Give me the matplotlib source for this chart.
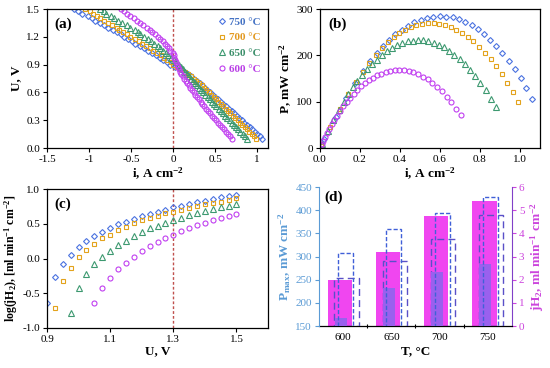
import numpy as np
import matplotlib
matplotlib.use("Agg")
import matplotlib.pyplot as plt
from matplotlib.ticker import FuncFormatter, MultipleLocator, FixedLocator

plt.rcParams["font.family"] = ["Liberation Serif", "DejaVu Serif"]
plt.rcParams["mathtext.fontset"] = "custom"
plt.rcParams["mathtext.rm"] = "Liberation Serif"
plt.rcParams["mathtext.bf"] = "Liberation Serif:bold"
plt.rcParams["mathtext.it"] = "Liberation Serif:italic"

# ---- data -------------------------------------------------------------
# voltage sweep, V (same grid for every temperature, high -> low)
voltage = [1.5, 1.475, 1.45, 1.425, 1.4, 1.375, 1.35, 1.325, 1.3, 1.275,
           1.25, 1.225, 1.2, 1.175, 1.15, 1.125, 1.1, 1.075, 1.05, 1.025,
           1.0, 0.975, 0.95, 0.925, 0.9, 0.875, 0.85, 0.825, 0.8, 0.775,
           0.75, 0.725, 0.7, 0.675, 0.65, 0.625, 0.6, 0.575, 0.55, 0.525,
           0.5, 0.475, 0.45, 0.425, 0.4, 0.375, 0.35, 0.325, 0.3, 0.275,
           0.25, 0.225, 0.2, 0.175, 0.15, 0.125, 0.1]

temps = [750, 700, 650, 600]

# electrolysis branch: log10(jH2 / ml min-1 cm-2), from U = 1.5 V downward
log_jh2_750 = [0.915, 0.895, 0.88, 0.85, 0.83, 0.81, 0.785, 0.76, 0.735, 0.70,
               0.67, 0.635, 0.61, 0.57, 0.53, 0.495, 0.44, 0.38, 0.32, 0.245,
               0.16, 0.05, -0.08, -0.27, -0.635]
log_jh2_700 = [0.865, 0.84, 0.82, 0.80, 0.78, 0.755, 0.73, 0.705, 0.67, 0.65,
               0.615, 0.585, 0.55, 0.505, 0.455, 0.41, 0.345, 0.29, 0.215, 0.12,
               0.015, -0.13, -0.33, -0.71]
log_jh2_650 = [0.785, 0.76, 0.745, 0.71, 0.69, 0.66, 0.625, 0.585, 0.555, 0.505,
               0.465, 0.44, 0.375, 0.32, 0.255, 0.195, 0.11, 0.025, -0.085, -0.225,
               -0.42, -0.785]
log_jh2_600 = [0.635, 0.61, 0.585, 0.555, 0.515, 0.48, 0.44, 0.395, 0.335, 0.29,
               0.235, 0.18, 0.105, 0.025, -0.07, -0.155, -0.275, -0.43, -0.64]

# fuel cell branch: current density, A cm-2 (continues the voltage grid)
i_fc_750 = [0.022, 0.078, 0.130, 0.176, 0.215, 0.250, 0.283, 0.315, 0.346, 0.377,
            0.408, 0.440, 0.472, 0.503, 0.535, 0.567, 0.598, 0.630, 0.664, 0.696,
            0.727, 0.759, 0.788, 0.818, 0.850, 0.881, 0.912, 0.943, 0.975, 1.003,
            1.032, 1.062]
i_fc_700 = [0.005, 0.052, 0.098, 0.140, 0.178, 0.213, 0.246, 0.278, 0.309, 0.339,
            0.368, 0.397, 0.425, 0.454, 0.482, 0.511, 0.539, 0.568, 0.596, 0.625,
            0.653, 0.682, 0.710, 0.739, 0.767, 0.796, 0.824, 0.853, 0.881, 0.909,
            0.937, 0.964, 0.990]
i_fc_650 = [0.010, 0.040, 0.067, 0.093, 0.118, 0.141, 0.164, 0.187, 0.210, 0.234,
            0.258, 0.283, 0.308, 0.334, 0.360, 0.386, 0.412, 0.438, 0.464, 0.490,
            0.516, 0.542, 0.568, 0.594, 0.620, 0.646, 0.672, 0.698, 0.724, 0.750,
            0.776, 0.802, 0.828, 0.854, 0.880]
i_fc_600 = [0.000, 0.008, 0.016, 0.025, 0.035, 0.046, 0.058, 0.071, 0.085, 0.100,
            0.116, 0.133, 0.150, 0.168, 0.186, 0.205, 0.224, 0.244, 0.264, 0.285,
            0.306, 0.328, 0.350, 0.373, 0.396, 0.420, 0.443, 0.467, 0.490, 0.514,
            0.538, 0.562, 0.586, 0.610, 0.633, 0.657, 0.681, 0.705]

log_jh2 = {750: log_jh2_750, 700: log_jh2_700, 650: log_jh2_650, 600: log_jh2_600}
i_fc = {750: i_fc_750, 700: i_fc_700, 650: i_fc_650, 600: i_fc_600}

jh2_per_amp = 6.97  # ml min-1 of H2 per A

# panel (d)
bar_temps = ["600", "650", "700", "750"]
p_max = [168, 232, 266, 283]             # mW cm-2
p_max_ref = [307, 359, 393, 429]         # mW cm-2 (dashed)
jh2_13 = [1.99, 3.2, 4.75, 5.4]          # ml min-1 cm-2
jh2_ref = [2.06, 2.82, 3.74, 4.79]       # ml min-1 cm-2 (dashed)

styles = {750: dict(marker="D", ms=3.0, color="#4a72e0", text="#4472c4"),
          700: dict(marker="s", ms=3.4, color="#e3a31c", text="#e39a22"),
          650: dict(marker="^", ms=3.8, color="#3d9970", text="#3b8f6a"),
          600: dict(marker="o", ms=3.6, color="#c03ef0", text="#b93ee6")}

# ---- figure ---------------------------------------------------------
fig = plt.figure(figsize=(5.5, 3.68), dpi=100)
ax_a = fig.add_axes([0.0855, 0.5978, 0.4018, 0.3777])
ax_b = fig.add_axes([0.5818, 0.5978, 0.4, 0.3777])
ax_c = fig.add_axes([0.0855, 0.1087, 0.4018, 0.3777])
ax_d = fig.add_axes([0.58, 0.1141, 0.3509, 0.3777])

tick_fs = 8
label_fs = 9.5
lab_kw = dict(fontsize=label_fs, fontweight="bold")
red = "#c0504d"

for ax in (ax_a, ax_b, ax_c):
    ax.tick_params(direction="out", length=3, width=0.8, labelsize=tick_fs, pad=2)
    for s in ax.spines.values():
        s.set_linewidth(0.9)

volt = np.array(voltage)
for t in temps:
    st = styles[t]
    mk = dict(marker=st["marker"], ms=st["ms"], mfc="none", mec=st["color"],
              mew=0.8, linestyle="none")
    n_ec = len(log_jh2[t])
    i_ec = -(10 ** np.array(log_jh2[t])) / jh2_per_amp
    i_all = np.concatenate([i_ec, np.array(i_fc[t])])
    # (a) I-V
    ax_a.plot(i_all, volt, label=f"{t} °C", **mk)
    # (b) power density
    u_fc = volt[n_ec:]
    ii = np.array(i_fc[t])
    ax_b.plot(ii, u_fc * ii * 1000, **mk)
    # (c) hydrogen production
    ax_c.plot(volt[:n_ec], log_jh2[t], **mk)

# (a)
ax_a.axvline(0, color=red, lw=1, linestyle=(0, (2, 1.5)), zorder=0)
ax_a.set_xlim(-1.5, 1.13)
ax_a.set_ylim(0, 1.5)
ax_a.xaxis.set_major_locator(MultipleLocator(0.5))
ax_a.xaxis.set_major_formatter(FuncFormatter(lambda v, p: f"{v:g}"))
ax_a.yaxis.set_major_locator(MultipleLocator(0.3))
ax_a.yaxis.set_major_formatter(FuncFormatter(lambda v, p: f"{v:.1f}"))
ax_a.set_xlabel(r"i, A cm$^{\mathbf{-2}}$", labelpad=1, **lab_kw)
ax_a.set_ylabel("U, V", labelpad=3, **lab_kw)
leg = ax_a.legend(loc="upper right", frameon=False,
                  prop=dict(weight="bold", size=8), handletextpad=0.2,
                  handlelength=0.8, labelspacing=0.55, borderaxespad=0.3,
                  labelcolor=[styles[t]["text"] for t in temps])
ax_a.text(0.035, 0.94, "(a)", transform=ax_a.transAxes, ha="left", va="top",
          fontsize=11, fontweight="bold")

# (b)
ax_b.set_xlim(0, 1.1)
ax_b.set_ylim(0, 300)
ax_b.xaxis.set_major_locator(MultipleLocator(0.2))
ax_b.xaxis.set_major_formatter(FuncFormatter(lambda v, p: f"{v:.1f}"))
ax_b.yaxis.set_major_locator(MultipleLocator(100))
ax_b.set_xlabel(r"i, A cm$^{\mathbf{-2}}$", labelpad=1, **lab_kw)
ax_b.set_ylabel(r"P, mW cm$^{\mathbf{-2}}$", labelpad=2, **lab_kw)
ax_b.text(0.036, 0.94, "(b)", transform=ax_b.transAxes, ha="left", va="top",
          fontsize=11, fontweight="bold")

# (c)
ax_c.axvline(1.3, color=red, lw=1, linestyle=(0, (2, 1.5)), zorder=0)
ax_c.set_xlim(0.9, 1.6)
ax_c.set_ylim(-1, 1)
ax_c.xaxis.set_major_locator(FixedLocator([0.9, 1.1, 1.3, 1.5]))
ax_c.xaxis.set_major_formatter(FuncFormatter(lambda v, p: f"{v:.1f}"))
ax_c.yaxis.set_major_locator(MultipleLocator(0.5))
ax_c.yaxis.set_major_formatter(FuncFormatter(lambda v, p: f"{v:.1f}"))
ax_c.set_xlabel("U, V", labelpad=1, **lab_kw)
ax_c.set_ylabel(r"log(jH$_{\mathbf{2}}$), [ml min$^{\mathbf{-1}}$ cm$^{\mathbf{-2}}$]",
                labelpad=2, fontsize=8.5, fontweight="bold")
ax_c.text(0.035, 0.94, "(c)", transform=ax_c.transAxes, ha="left", va="top",
          fontsize=11, fontweight="bold")

# (d) main axes: jH2 (right scale); twin: Pmax (left scale)
blue_l = "#5b9bd5"
mag_l = "#cc44dd"
x = np.arange(len(bar_temps))
ax_d2 = ax_d.twinx()

ax_d.bar(x - 0.07, jh2_13, width=0.5, color="#f046f0", zorder=1)
ax_d.bar(x + 0.07, jh2_ref, width=0.5, fill=False, edgecolor="#5a50c8",
         linewidth=1.0, linestyle=(0, (5, 3)), zorder=3)
ax_d.set_ylim(0, 6)
ax_d.set_xlim(-0.5, 3.5)
ax_d.yaxis.tick_right()
ax_d.yaxis.set_label_position("right")
ax_d.set_ylabel(r"jH$_{\mathbf{2}}$, ml min$^{\mathbf{-1}}$ cm$^{\mathbf{-2}}$",
                color=mag_l, labelpad=3, **lab_kw)

ax_d2.bar(x - 0.05, p_max, width=0.25, color="#9a60ee", zorder=1)
ax_d2.bar(x + 0.05, p_max_ref, width=0.31, fill=False, edgecolor="#4060d8",
          linewidth=1.0, linestyle=(0, (3, 1.5)), zorder=3)
ax_d2.set_ylim(150, 450)
ax_d2.yaxis.tick_left()
ax_d2.yaxis.set_label_position("left")
ax_d2.yaxis.set_major_locator(MultipleLocator(50))
ax_d2.set_ylabel(r"P$_{\mathbf{max}}$, mW cm$^{\mathbf{-2}}$", color=blue_l,
                 labelpad=2, **lab_kw)

ax_d.set_xticks(x)
ax_d.set_xticklabels(bar_temps)
ax_d.xaxis.set_minor_locator(FixedLocator([0.5, 1.5, 2.5]))
ax_d.tick_params(axis="x", which="major", length=0, labelsize=tick_fs, pad=5)
ax_d.tick_params(axis="x", which="minor", length=3, width=0.8, direction="inout")
ax_d.tick_params(axis="y", labelsize=tick_fs, colors=mag_l, length=3, width=0.8, pad=2,
                 left=False, labelleft=False, right=True, labelright=True)
ax_d2.tick_params(axis="y", labelsize=tick_fs, colors=blue_l, length=3, width=0.8, pad=2,
                  left=True, labelleft=True, right=False, labelright=False)
ax_d.set_xlabel("T, °C", labelpad=2, **lab_kw)

for s in ("top", "left"):
    ax_d.spines[s].set_visible(False)
for s in ("top", "right", "bottom"):
    ax_d2.spines[s].set_visible(False)
ax_d.spines["right"].set_color("#8040c8")
ax_d.spines["bottom"].set_linewidth(0.9)
ax_d2.spines["left"].set_color(blue_l)
ax_d2.text(0.03, 0.975, "(d)", transform=ax_d2.transAxes, ha="left", va="top",
           fontsize=11, fontweight="bold", zorder=5)

fig.savefig("out.png", dpi=100)
